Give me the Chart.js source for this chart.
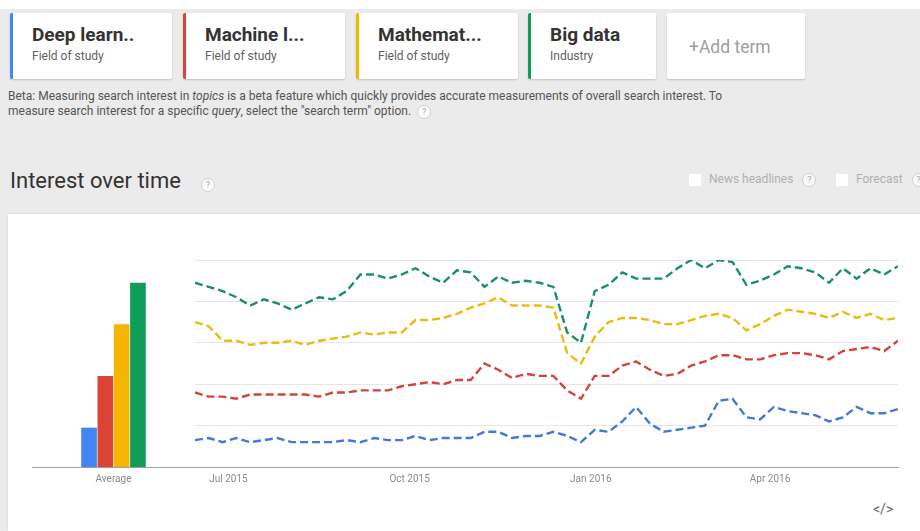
<!DOCTYPE html>
<html>
<head>
<meta charset="utf-8">
<script src="https://cdn.jsdelivr.net/npm/chart.js@4.4.0/dist/chart.umd.min.js"></script>
<style>
  body { margin:0; width:920px; height:531px; overflow:hidden; background:#ebebeb; position:relative; font-family:Roboto, Arial, sans-serif; }
  .strip { position:absolute; left:0; top:0; width:920px; height:9px; background:#fff; }
  .card { position:absolute; top:13px; height:66px; background:#fff; box-sizing:border-box; border-radius:2px; box-shadow:0 1px 2px rgba(0,0,0,.18); }
  .card .t { position:absolute; left:19px; top:10px; font-size:19px; font-weight:700; color:#333; white-space:nowrap; }
  .card .s { position:absolute; left:19px; top:36px; font-size:12px; color:#5f5f5f; white-space:nowrap; }
  .add { position:absolute; left:22px; top:24px; font-size:17.5px; color:#9e9e9e; }
  .beta { position:absolute; left:8px; top:89px; width:728px; font-size:12px; line-height:15px; color:#555; }
  .q { display:inline-block; width:12px; height:12px; border:1px solid #d0d0d0; border-radius:50%; font-size:9px; line-height:12px; text-align:center; color:#aaa; vertical-align:middle; background:#fafafa; }
  .title { position:absolute; left:10px; top:168px; font-size:22px; color:#333; }
  .opts { position:absolute; top:172px; font-size:12px; color:#b0b0b0; white-space:nowrap; }
  .box { display:inline-block; width:12px; height:12px; background:#fff; vertical-align:middle; margin-right:8px; }
  .panel { position:absolute; left:8px; top:214px; width:912px; height:317px; background:#fff; box-shadow:0 0 2px rgba(0,0,0,.12); }
  .embed { position:absolute; left:873px; top:501px; font-size:14px; color:#666; }
  #avgChart { position:absolute; left:20px; top:240px; }
  #lineChart { position:absolute; left:185px; top:240px; }
</style>
</head>
<body>
<div class="strip"></div>

<div class="card" style="left:10px;width:162px;border-left:3px solid #4285f4"><div class="t">Deep learn..</div><div class="s">Field of study</div></div>
<div class="card" style="left:183px;width:162px;border-left:3px solid #db4437"><div class="t">Machine l...</div><div class="s">Field of study</div></div>
<div class="card" style="left:356px;width:162px;border-left:3px solid #f4b400"><div class="t">Mathemat...</div><div class="s">Field of study</div></div>
<div class="card" style="left:528px;width:128px;border-left:3px solid #0f9d58"><div class="t">Big data</div><div class="s">Industry</div></div>
<div class="card" style="left:667px;width:138px"><div class="add">+Add term</div></div>

<div class="beta">Beta: Measuring search interest in <i>topics</i> is a beta feature which quickly provides accurate measurements of overall search interest. To measure search interest for a specific <i>query</i>, select the "search term" option. &nbsp;<span class="q">?</span></div>

<div class="title">Interest over time</div>
<span class="q" style="position:absolute;left:201px;top:178px">?</span>
<div class="opts" style="left:689px"><span class="box"></span>News headlines &nbsp;&nbsp;<span class="q">?</span></div>
<div class="opts" style="left:836px"><span class="box"></span>Forecast &nbsp;&nbsp;<span class="q">?</span></div>

<div class="panel"></div>
<canvas id="avgChart" width="175" height="260"></canvas>
<canvas id="lineChart" width="725" height="260"></canvas>
<div class="embed">&lt;/&gt;</div>

<script>
// search terms and their colours
const terms = ['Deep learning', 'Machine learning', 'Mathematics', 'Big data'];
const barColors = ['#4285f4', '#db4437', '#f4b400', '#0f9d58'];
const lineColors = ['#4479d6', '#d0463b', '#efb910', '#1a9160'];

// average interest over the period
const averages = [19, 44, 69, 89];

// weekly interest, weeks starting Sunday 14 Jun 2015
const firstWeek = '2015-06-14';
const deepLearning = [13,14,12,14,12,13,14,12,12,12,12,13,12,14,13,13,15,13,14,14,14,17,17,14,15,15,
                      17,15,12,18,17,22,29,21,17,18,19,20,32,33,24,23,29,27,26,25,22,24,29,26,26,28];
const machineLearning = [36,34,34,33,35,35,35,35,35,34,36,36,37,37,37,39,40,41,40,42,42,50,47,43,45,44,
                         44,37,33,44,44,49,51,47,44,45,49,51,54,54,52,52,54,55,55,54,52,56,57,58,56,61];
const mathematics = [70,68,61,61,59,60,60,61,59,61,62,63,65,64,65,65,71,71,72,74,77,79,82,78,78,78,
                     77,55,50,63,70,72,72,71,69,69,71,73,74,72,66,69,73,76,75,74,72,75,72,74,71,72];
const bigData = [89,87,85,82,78,81,79,76,79,82,81,85,93,93,91,93,96,92,89,95,94,87,92,89,90,89,
                 87,65,60,85,88,94,91,91,91,96,100,96,100,99,88,90,93,97,96,94,89,96,91,96,93,97];

// x axis labels
const tickLabels = ['Jul 2015', 'Oct 2015', 'Jan 2016', 'Apr 2016'];
const tickDates = ['2015-07-01', '2015-10-01', '2016-01-01', '2016-04-01'];

const DAY = 86400000;
const t0 = Date.parse(firstWeek);
const weekTimes = deepLearning.map((_, i) => t0 + i * 7 * DAY);
const tickTimes = tickDates.map(d => Date.parse(d));

const font = { family: 'Roboto, Arial, sans-serif', size: 10 };

new Chart(document.getElementById('avgChart'), {
  type: 'bar',
  data: {
    labels: ['Average'],
    datasets: terms.map((t, i) => ({
      label: t,
      data: [averages[i]],
      backgroundColor: barColors[i],
      borderWidth: 0
    }))
  },
  options: {
    responsive: false,
    animation: false,
    layout: { padding: { left: 12, right: 0, top: 20, bottom: 9 } },
    categoryPercentage: 0.4,
    barPercentage: 0.96,
    plugins: { legend: { display: false }, tooltip: { enabled: false } },
    scales: {
      x: {
        grid: { display: false, drawTicks: false },
        border: { display: true, color: '#a0a0a0' },
        ticks: { color: '#8a8a8a', font: font, padding: 6 }
      },
      y: { display: false, min: 0, max: 100 }
    }
  }
});

new Chart(document.getElementById('lineChart'), {
  type: 'line',
  data: {
    datasets: terms.map((t, i) => ({
      label: t,
      data: [deepLearning, machineLearning, mathematics, bigData][i].map((v, k) => ({ x: weekTimes[k], y: v })),
      borderColor: lineColors[i],
      borderWidth: 2.4,
      borderDash: [8, 4],
      pointRadius: 0,
      tension: 0,
      fill: false
    }))
  },
  options: {
    responsive: false,
    animation: false,
    layout: { padding: { left: 10, right: 12, top: 20, bottom: 9 } },
    plugins: { legend: { display: false }, tooltip: { enabled: false } },
    scales: {
      x: {
        type: 'linear',
        min: weekTimes[0],
        max: weekTimes[weekTimes.length - 1],
        afterBuildTicks: s => { s.ticks = tickTimes.map(v => ({ value: v })); },
        grid: { display: false, drawTicks: false },
        border: { display: true, color: '#a0a0a0' },
        ticks: {
          color: '#8a8a8a', font: font, padding: 6, autoSkip: false, maxRotation: 0,
          callback: v => tickLabels[tickTimes.indexOf(v)]
        }
      },
      y: {
        min: 0, max: 100,
        ticks: { display: false, stepSize: 20 },
        grid: { drawTicks: false, color: c => c.tick.value === 0 ? 'rgba(0,0,0,0)' : '#e6e6e6' },
        border: { display: false }
      }
    }
  }
});
</script>
</body>
</html>
